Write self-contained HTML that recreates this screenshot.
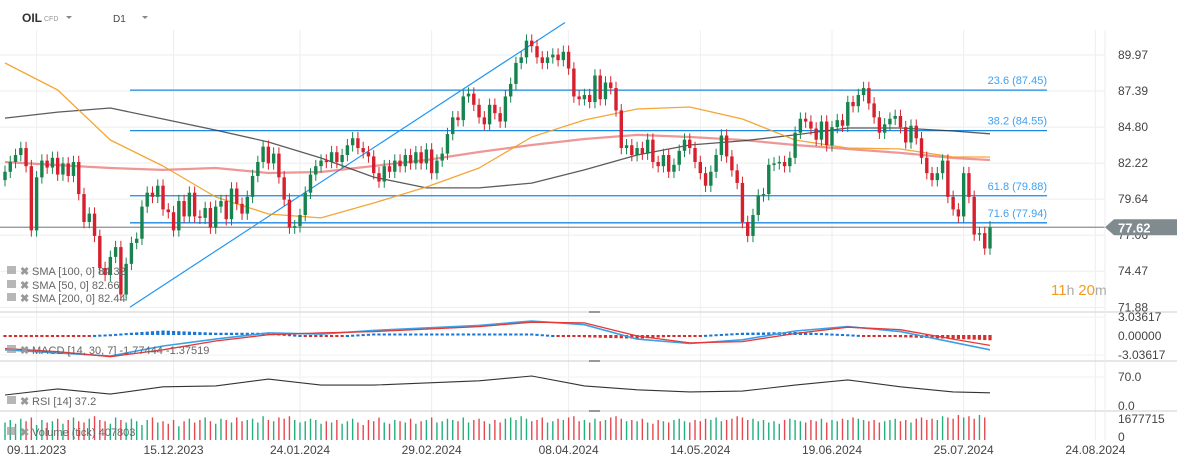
<!DOCTYPE html>
<html><head><meta charset="utf-8">
<style>
html,body{margin:0;padding:0;background:#fff;}
svg{display:block;font-family:"Liberation Sans",sans-serif;}
</style></head>
<body>
<svg id="chart" width="1177" height="465" viewBox="0 0 1177 465" xmlns="http://www.w3.org/2000/svg">
<rect width="1177" height="465" fill="#fff"/>
<g id="grid"></g>
<g id="fib"></g>
<g id="smas"></g>
<g id="candles"></g>
<g id="macdg"></g>
<g id="rsig"></g>
<g id="volg"></g>
<g id="axes"></g>
<text x="22" y="22" font-size="12" font-weight="bold" fill="#333">OIL</text>
<text x="44" y="21" font-size="7" fill="#999">CFD</text>
<path d="M66 16 L72 16 L69 19 Z" fill="#888"/>
<text x="113" y="22" font-size="10" fill="#444">D1</text>
<path d="M142 16 L148 16 L145 19 Z" fill="#888"/>
<text x="1051" y="295" font-size="15"><tspan fill="#f39c1f">11</tspan><tspan fill="#aaa" font-size="14">h </tspan><tspan fill="#f39c1f">20</tspan><tspan fill="#aaa" font-size="14">m</tspan></text>
</svg>
<script>
const closes=[81.6,82.3,82.8,83.3,82.0,77.4,81.2,82.4,81.9,82.6,81.4,82.2,81.3,82.3,80.0,78.0,78.6,77.0,74.7,74.2,75.5,76.2,72.8,75.0,76.5,76.8,79.1,80.1,79.8,80.6,78.9,
78.7,77.4,79.5,78.4,80.1,78.4,78.3,79.0,77.6,79.1,79.5,78.2,80.4,79.3,78.6,79.8,81.3,82.3,83.4,82.2,82.9,81.2,79.6,77.6,77.7,78.5,80.1,81.4,82.0,82.4,
82.3,83.0,82.3,82.8,83.5,84.0,83.3,83.0,82.7,81.5,80.9,82.0,81.6,82.4,82.0,82.8,82.2,83.0,82.2,83.2,81.5,82.4,82.9,84.3,85.5,85.3,87.0,87.2,86.4,85.5,85.0,86.4,85.8,85.2,87.0,87.9,89.4,89.8,91.0,90.6,89.8,89.4,89.8,90.0,89.6,90.2,89.0,87.0,86.8,87.1,86.6,88.5,86.8,88.0,87.6,86.0,83.3,83.5,82.8,83.3,
82.9,83.9,82.3,82.0,82.8,81.6,82.1,83.1,83.9,83.3,82.3,81.5,80.6,81.6,82.8,84.2,82.7,81.7,80.8,78.0,77.0,78.5,79.9,80.0,82.1,82.2,82.3,82.0,82.6,84.4,85.4,85.2,84.7,83.9,85.2,83.5,84.8,85.3,84.9,86.6,86.3,87.1,87.6,86.5,85.5,84.4,85.0,85.4,85.6,84.8,83.7,84.9,84.0,82.6,81.5,81.0,81.5,82.4,79.8,78.9,78.4,81.5,79.8,77.1,77.2,76.1,77.62];
const firstOpen=81.0;
const volumes=[1.4,1.6,1.3,1.7,1.5,1.8,1.2,1.6,1.4,1.5,1.7,1.3,1.6,1.8,1.5,1.4,1.7,1.9,1.6,1.5,1.3,1.8,1.6,1.4,1.7,1.5,1.2,1.6,1.8,1.4,1.5,
1.3,1.6,1.1,1.5,1.7,1.4,1.6,1.8,1.5,1.3,1.7,1.6,1.4,1.8,1.5,1.6,1.7,1.4,1.9,1.6,1.5,1.8,1.7,1.9,1.6,1.4,1.5,1.7,1.6,1.3,
1.5,1.4,1.6,1.3,1.5,1.7,1.4,1.2,1.6,1.5,1.8,1.4,1.3,1.6,1.5,1.4,1.7,1.3,1.5,1.6,1.8,1.4,1.5,1.7,1.6,1.5,1.8,1.4,1.6,1.7,1.5,1.3,1.6,1.4,1.7,1.8,1.6,1.9,1.7,1.5,1.6,1.8,1.4,1.5,1.7,1.6,1.8,1.9,1.5,1.6,1.4,1.7,1.5,1.6,1.8,1.9,1.7,1.5,1.6,
1.5,1.7,1.4,1.3,1.6,1.5,1.4,1.6,1.7,1.5,1.4,1.6,1.5,1.7,1.6,1.8,1.5,1.6,1.7,1.9,1.8,1.6,1.7,1.5,1.6,1.4,1.5,1.3,1.6,1.7,1.6,1.5,1.4,1.6,1.5,1.7,1.4,1.6,1.5,1.7,1.6,1.8,1.7,1.6,1.5,1.6,1.4,1.5,1.6,1.7,1.5,1.6,1.4,1.7,1.8,1.6,1.7,1.6,1.9,1.8,1.7,2.0,1.8,1.9,1.7,2.0,1.8];
const sma50=[89.40,87.46,83.88,82.01,79.79,78.57,78.29,79.36,80.51,81.87,84.09,85.31,86.10,86.24,85.38,83.88,83.30,83.23,82.66,82.66];
const sma100=[82.30,82.08,81.87,81.73,81.87,81.51,81.58,82.01,82.44,83.02,83.52,83.95,84.24,84.09,83.88,83.52,83.23,82.95,82.59,82.44];
const sma200=[85.45,85.88,86.17,85.38,84.59,83.73,82.59,81.22,80.44,80.44,80.79,81.73,82.80,83.52,83.81,84.24,84.74,84.74,84.52,84.32];
const macdLine=[-2.2,-2.7,-3.2,-1.6,-0.5,0.5,0.3,0.9,1.3,1.7,2.4,1.8,-0.5,-1.2,-0.6,0.8,1.5,0.7,-1.0,-2.2];
const macdSignal=[-2.0,-2.5,-3.3,-2.2,-0.8,0.2,0.5,0.7,1.1,1.5,2.2,2.1,0.0,-1.1,-0.9,0.4,1.4,1.0,-0.5,-1.5];
const rsiValues=[28,42,30,47,49,65,51,51,56,61,72,49,40,35,37,51,63,47,35,33];
const priceTicks=[89.97,87.39,84.80,82.22,79.64,77.06,74.47,71.88];
const fibLevels=[87.45,84.55,79.88,77.94];
const fibNames=["23.6","38.2","61.8","71.6"];
const dateLabels=["09.11.2023","15.12.2023","24.01.2024","29.02.2024","08.04.2024","14.05.2024","19.06.2024","25.07.2024","24.08.2024"];
const dateIdx=[6,32,56,81,107,132,157,182,207];
const lastPrice=77.62;
const trendStart=71.9, trendEnd=92.3;

const NS="http://www.w3.org/2000/svg";
function mk(tag,attrs,parent){const e=document.createElementNS(NS,tag);for(const k in attrs)e.setAttribute(k,attrs[k]);parent.appendChild(e);return e;}
const N=closes.length;
const X0=5,X1=990;
const step=(X1-X0)/(N-1);
const xS=i=>X0+i*step;
const yP=p=>55+(89.97-p)*13.95;
const yM=v=>336-v*6.26;
const yR=v=>407-v*0.43;
const sampleIdx=k=>Math.min(k*10,N-1);
const G=id=>document.getElementById(id);

const grid=G('grid');
dateIdx.forEach((d,i)=>{const x=xS(d);
 const l=mk('line',{x1:x,x2:x,y1:30,y2:440,stroke:'#eeeeee','stroke-width':1},grid);
 
 });
priceTicks.forEach(p=>{const y=yP(p);
 const l=mk('line',{x1:0,x2:1105,y1:y,y2:y,stroke:'#eeeeee','stroke-width':1},grid);
 
 });
[317,355,377].forEach(y=>{const l=mk('line',{x1:0,x2:1105,y1:y,y2:y,stroke:'#f2f2f2'},grid);
 
 });

const fib=G('fib');
fibLevels.forEach((p,i)=>{const y=yP(p);
 const l=mk('line',{x1:130,x2:1047,y1:y,y2:y,stroke:'#1e88e5','stroke-width':1.3},fib);
 
 
 const t=mk('text',{x:1047,y:y-6,'text-anchor':'end','font-size':11,fill:'#42a0f0'},fib);
 t.textContent=fibNames[i]+' ('+p.toFixed(2)+')';
 
 });
const tl=mk('line',{x1:130,y1:yP(trendStart),x2:565,y2:yP(trendEnd),stroke:'#2196f3','stroke-width':1.2},fib);


const pl=mk('line',{x1:0,x2:1105,y1:yP(lastPrice),y2:yP(lastPrice),stroke:'#8a9093','stroke-width':1.2},fib);



const smas=G('smas');
function smaPath(arr,color,w,name,op){let d='';arr.forEach((v,k)=>{d+=(k?'L':'M')+xS(sampleIdx(k)).toFixed(1)+' '+yP(v).toFixed(1);});
 const p=mk('path',{d:d,fill:'none',stroke:color,'stroke-width':w,'stroke-opacity':op,'stroke-linejoin':'round'},smas);
 
 }
smaPath(sma100,'#e0413f',2.2,'sma-100-line',0.55);
smaPath(sma200,'#333333',1.3,'sma-200-line',0.8);
smaPath(sma50,'#f39c1f',1.3,'sma-50-line',0.9);

const cg=G('candles');
const GREEN='#17834e',RED='#d6202d';
closes.forEach((c,i)=>{const o=i?closes[i-1]:firstOpen;const up=c>=o;const col=up?GREEN:RED;const x=xS(i);
 const hi=Math.max(o,c)+0.45,lo=Math.min(o,c)-0.45;
 const w=mk('line',{x1:x,x2:x,y1:yP(hi),y2:yP(lo),stroke:col,'stroke-width':1},cg);
 
 
 const yt=yP(Math.max(o,c)),yb=yP(Math.min(o,c));
 const b=mk('rect',{x:x-1.7,y:yt,width:3.4,height:Math.max(1.5,yb-yt),fill:col},cg);
 
 });

const mg=G('macdg');
function interp(arr,i){const f=i/10;const k=Math.min(Math.floor(f),arr.length-2);const a=sampleIdx(k),b=sampleIdx(k+1);const t=Math.min(1,(i-a)/(b-a));return arr[k]+(arr[k+1]-arr[k])*t;}
for(let i=0;i<N;i++){const h=(interp(macdLine,i)-interp(macdSignal,i))*1.2;const y0=336,y1=yM(h);
 const r=mk('rect',{x:xS(i)-1.6,y:Math.min(y0,y1)-1,width:3.2,height:Math.max(2,Math.abs(y1-y0)),fill:h>=0?'#1976d2':'#d32f2f'},mg);
 
 }
function linePath(arr,yf,color,w,name,g){let d='';arr.forEach((v,k)=>{d+=(k?'L':'M')+xS(sampleIdx(k)).toFixed(1)+' '+yf(v).toFixed(1);});
 const p=mk('path',{d:d,fill:'none',stroke:color,'stroke-width':w},g);
 
 }
linePath(macdLine,yM,'#3aa0e8',1.6,'macd-line',mg);
linePath(macdSignal,yM,'#e53935',1.3,'macd-signal-line',mg);

const rg=G('rsig');
linePath(rsiValues,yR,'#333',1.1,'rsi-line',rg);

const vg=G('volg');
closes.forEach((c,i)=>{const o=i?closes[i-1]:firstOpen;const h=volumes[i]/1.677715*21;
 const r=mk('rect',{x:xS(i)-0.7,y:440-h,width:1.4,height:h,fill:c>=o?'#22b07d':'#e8474f'},vg);
 
 });

const ax=G('axes');
[312,361,411].forEach(y=>{const l=mk('line',{x1:0,x2:1177,y1:y,y2:y,stroke:'#cfcfcf'},ax);
 
 
 const h=mk('line',{x1:589,x2:600,y1:y,y2:y,stroke:'#999','stroke-width':2},ax);
 
 });
const al=mk('line',{x1:1105,x2:1105,y1:30,y2:440,stroke:'#eee'},ax);


priceTicks.forEach(p=>{const t=mk('text',{x:1118,y:yP(p)+4,'font-size':12,fill:'#444'},ax);t.textContent=p.toFixed(2);
 
 });
[['3.03617',321],['0.00000',340],['-3.03617',359],['70.0',381],['0.0',410],['1677715',423],['0',441]].forEach(a=>{
 const t=mk('text',{x:1118,y:a[1],'font-size':12,fill:'#444'},ax);t.textContent=a[0];
 
 });
dateLabels.forEach((d,i)=>{const t=mk('text',{x:xS(dateIdx[i]),y:454,'font-size':12,fill:'#444','text-anchor':'middle'},ax);t.textContent=d;
 
 });
const yl=yP(lastPrice);
const tag=mk('path',{d:`M1105 ${yl} L1114 ${yl-8} L1177 ${yl-8} L1177 ${yl+8} L1114 ${yl+8} Z`,fill:'#7f8b8f'},ax);


const tt=mk('text',{x:1118,y:yl+5,'font-size':13,'font-weight':'bold',fill:'#fff'},ax);tt.textContent=lastPrice.toFixed(2);


const legends=[['SMA [100,  0]  84.32',275,'sma-100-legend'],['SMA [50,  0]  82.66',289,'sma-50-legend'],['SMA [200,  0]  82.44',302,'sma-200-legend'],
['MACD [14, 30, 7]  -1.77444  -1.37519',354,'macd-legend'],['RSI [14]  37.2',405,'rsi-legend'],['Volume (tick)  407803',436,'volume-legend']];
legends.forEach(l=>{
 const ic=mk('rect',{x:7,y:l[1]-9,width:9,height:8,fill:'#999',opacity:0.7},ax);
 
 
 const cx=mk('text',{x:20,y:l[1],'font-size':11,'font-weight':'bold',fill:'#999'},ax);cx.textContent='✖';
 
 
 const t=mk('text',{x:32,y:l[1],'font-size':11,fill:'#666','xml:space':'preserve'},ax);t.textContent=l[0];
 
 });
</script>
</body></html>
